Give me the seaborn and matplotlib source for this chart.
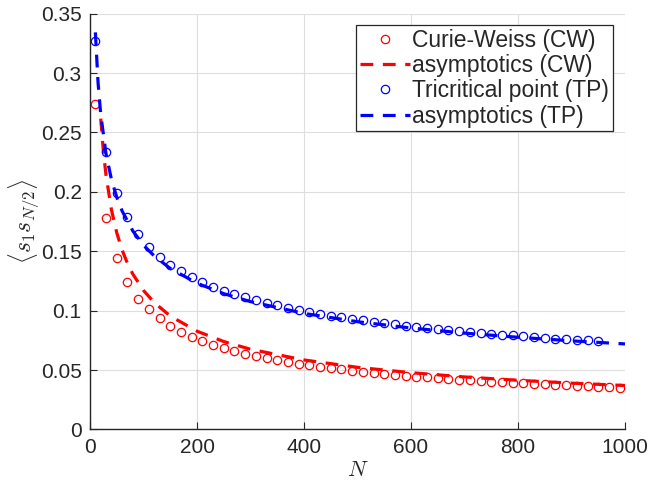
import numpy as np
import pandas as pd
import matplotlib
matplotlib.use("Agg")
import matplotlib.pyplot as plt
import seaborn as sns

# ---- data ----
N_cw = list(range(10, 1000, 20))
cw_vals = [0.274, 0.178, 0.144, 0.124, 0.110, 0.101, 0.0935, 0.0873, 0.0823, 0.0781,
           0.0744, 0.0712, 0.0684, 0.0660, 0.0637, 0.0617, 0.0599, 0.0582, 0.0567, 0.0553,
           0.0539, 0.0527, 0.0516, 0.0505, 0.0495, 0.0486, 0.0477, 0.0468, 0.0460, 0.0453,
           0.0445, 0.0438, 0.0432, 0.0425, 0.0419, 0.0414, 0.0408, 0.0403, 0.0398, 0.0393,
           0.0388, 0.0383, 0.0379, 0.0375, 0.0371, 0.0367, 0.0363, 0.0359, 0.0356, 0.0352]

N_cw_asym = [20, 25, 30, 40, 50, 60, 70, 80, 100, 120, 150, 200, 250, 300, 400, 500,
             600, 700, 800, 900, 1000]
cw_asym = [0.2616, 0.2340, 0.2136, 0.1850, 0.1655, 0.1510, 0.1398, 0.1308, 0.1170, 0.1068,
           0.0955, 0.0827, 0.0740, 0.0675, 0.0585, 0.0523, 0.0478, 0.0442, 0.0414, 0.0390,
           0.0370]

N_tp = list(range(10, 960, 20))
tp_vals = [0.327, 0.2335, 0.199, 0.1787, 0.1644, 0.1538, 0.1454, 0.1387, 0.1330, 0.1281,
           0.1239, 0.1202, 0.1169, 0.1139, 0.1112, 0.1087, 0.1064, 0.1044, 0.1024, 0.1005,
           0.0989, 0.0973, 0.0959, 0.0944, 0.0931, 0.0918, 0.0907, 0.0895, 0.0884, 0.0874,
           0.0864, 0.0855, 0.0846, 0.0837, 0.0829, 0.0821, 0.0813, 0.0805, 0.0799, 0.0791,
           0.0784, 0.0778, 0.0772, 0.0765, 0.0760, 0.0754, 0.0749, 0.0742]

N_tp_asym = [10, 15, 20, 30, 40, 50, 60, 80, 100, 120, 150, 200, 250, 300, 400, 500,
             600, 700, 800, 900, 1000]
tp_asym = [0.3342, 0.2920, 0.2653, 0.2317, 0.2105, 0.1954, 0.1839, 0.1671, 0.1551, 0.1460,
           0.1355, 0.1231, 0.1143, 0.1076, 0.0977, 0.0907, 0.0854, 0.0811, 0.0776, 0.0746,
           0.0720]

x_ticks = [0, 200, 400, 600, 800, 1000]
y_ticks = [0, 0.05, 0.1, 0.15, 0.2, 0.25, 0.3, 0.35]
y_tick_labels = ["0", "0.05", "0.1", "0.15", "0.2", "0.25", "0.3", "0.35"]

labels = ["Curie-Weiss (CW)", "asymptotics (CW)", "Tricritical point (TP)", "asymptotics (TP)"]

# ---- style ----
sns.set_theme(style="white")
plt.rcParams["font.family"] = ["Liberation Sans", "DejaVu Sans"]
plt.rcParams["mathtext.fontset"] = "cm"

axis_col = "#262626"
fig = plt.figure(figsize=(6.5, 4.91), dpi=100)
ax = fig.add_axes([0.1385, 0.1253, 0.823, 0.847])

df_cw = pd.DataFrame({"N": N_cw, "v": cw_vals})
df_cwa = pd.DataFrame({"N": N_cw_asym, "v": cw_asym})
df_tp = pd.DataFrame({"N": N_tp, "v": tp_vals})
df_tpa = pd.DataFrame({"N": N_tp_asym, "v": tp_asym})

lw = 2.3
sns.lineplot(data=df_cw, x="N", y="v", ax=ax, linestyle="", marker="o", markersize=6,
             markerfacecolor="none", markeredgecolor="red", markeredgewidth=0.9,
             color="red", label=labels[0])
sns.lineplot(data=df_cwa, x="N", y="v", ax=ax, color="red", lw=lw, label=labels[1],
             dashes=False)
ax.lines[-1].set_dashes((4, 3))
sns.lineplot(data=df_tp, x="N", y="v", ax=ax, linestyle="", marker="o", markersize=6,
             markerfacecolor="none", markeredgecolor="blue", markeredgewidth=0.9,
             color="blue", label=labels[2])
sns.lineplot(data=df_tpa, x="N", y="v", ax=ax, color="blue", lw=lw, label=labels[3],
             dashes=False)
ax.lines[-1].set_dashes((4, 3))

ax.set_xlim(0, 1000)
ax.set_ylim(0, 0.35)
ax.set_xticks(x_ticks)
ax.set_xticklabels([str(t) for t in x_ticks])
ax.set_yticks(y_ticks)
ax.set_yticklabels(y_tick_labels)
ax.grid(True, color="#dedede", lw=0.8)
ax.set_axisbelow(True)
for s in ["top", "right"]:
    ax.spines[s].set_visible(False)
for s in ["left", "bottom"]:
    ax.spines[s].set_color(axis_col)
    ax.spines[s].set_linewidth(1.0)
ax.tick_params(direction="in", length=5, width=0.8, colors=axis_col, labelsize=15,
               pad=6, left=True, bottom=True)

ax.set_xlabel(r"$N$", fontsize=16, color=axis_col, labelpad=2)
ax.set_ylabel(r"$\langle s_1 s_{N/2} \rangle$", fontsize=17, color=axis_col, labelpad=-1)

leg = ax.legend(loc="upper right", bbox_to_anchor=(0.977, 0.972), borderaxespad=0,
                fontsize=16.5, frameon=True, fancybox=False, framealpha=1,
                handlelength=2.2, handletextpad=0.1, labelspacing=0.1,
                borderpad=0.15)
leg.get_frame().set_edgecolor(axis_col)
leg.get_frame().set_linewidth(0.9)

fig.savefig("out.png", dpi=100)
